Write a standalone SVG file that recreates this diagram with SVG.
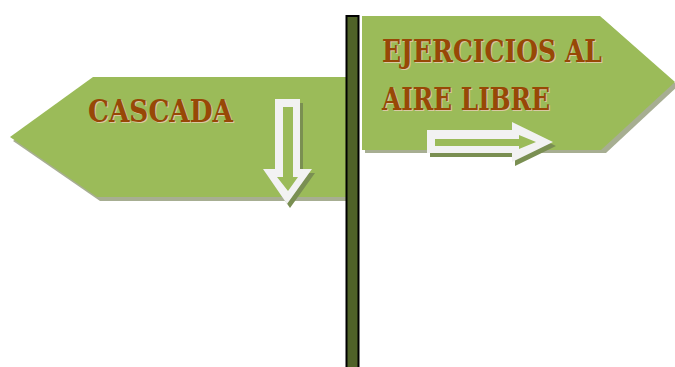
<svg xmlns="http://www.w3.org/2000/svg" width="675" height="367" viewBox="0 0 675 367">
<style>
.sign{fill:#9bbb59}
.shadow{fill:#a7ae92}
.arrowOut{fill:#f2f2f2}
.arrowIn{fill:#9bbb59}
.arrowSh{fill:#7a8f52}
.lbl{font-family:"DejaVu Serif","Liberation Serif",serif;font-weight:bold;font-size:31px;fill:#984806}
.lblSh{font-family:"DejaVu Serif","Liberation Serif",serif;font-weight:bold;font-size:31px;fill:#d9c9a3}
</style>
<rect width="675" height="367" fill="#ffffff"/>
<g id="sign-cascada">
<polygon class="shadow" points="96,80 348,80 348,201 100,201 13,141"/>
<polygon class="sign" points="93,77 346,77 346,197 97,197 10,137"/>
<polygon class="arrowSh" points="278,103 303,103 303,173 315,173 290,208 266,173 278,173"/>
<polygon class="arrowOut" points="275,99 300,99 300,169 312,169 287,204 263,169 275,169"/>
<polygon class="arrowIn" points="283,107 293,107 293,177 298,177 288,191 277,177 283,177"/>
<text class="lblSh" x="89" y="123" textLength="145" lengthAdjust="spacingAndGlyphs">CASCADA</text>
<text class="lbl" x="88" y="122" textLength="145" lengthAdjust="spacingAndGlyphs">CASCADA</text>
</g>
<g id="pole">
<rect x="346.5" y="16" width="12" height="360" fill="#4f6228" stroke="#000000" stroke-width="2"/>
</g>
<g id="sign-ejercicios">
<polygon class="shadow" points="365,19 603,19 678,86 606,153 365,153"/>
<polygon class="sign" points="362,16 600,16 675,82 601,150 362,150"/>
<polygon class="arrowSh" points="430,134 515,134 515,126 556,146 515,166 515,157 430,157"/>
<polygon class="arrowOut" points="427,130 512,130 512,122 553,142 512,162 512,153 427,153"/>
<polygon class="arrowIn" points="435,139 519,139 519,135 536,142 519,149 519,146 435,146"/>
<text class="lblSh" x="383" y="63" textLength="220" lengthAdjust="spacingAndGlyphs">EJERCICIOS AL</text>
<text class="lbl" x="382" y="62" textLength="220" lengthAdjust="spacingAndGlyphs">EJERCICIOS AL</text>
<text class="lblSh" x="383" y="111" textLength="168" lengthAdjust="spacingAndGlyphs">AIRE LIBRE</text>
<text class="lbl" x="382" y="110" textLength="168" lengthAdjust="spacingAndGlyphs">AIRE LIBRE</text>
</g>
<g id="connectors"></g>
</svg>
